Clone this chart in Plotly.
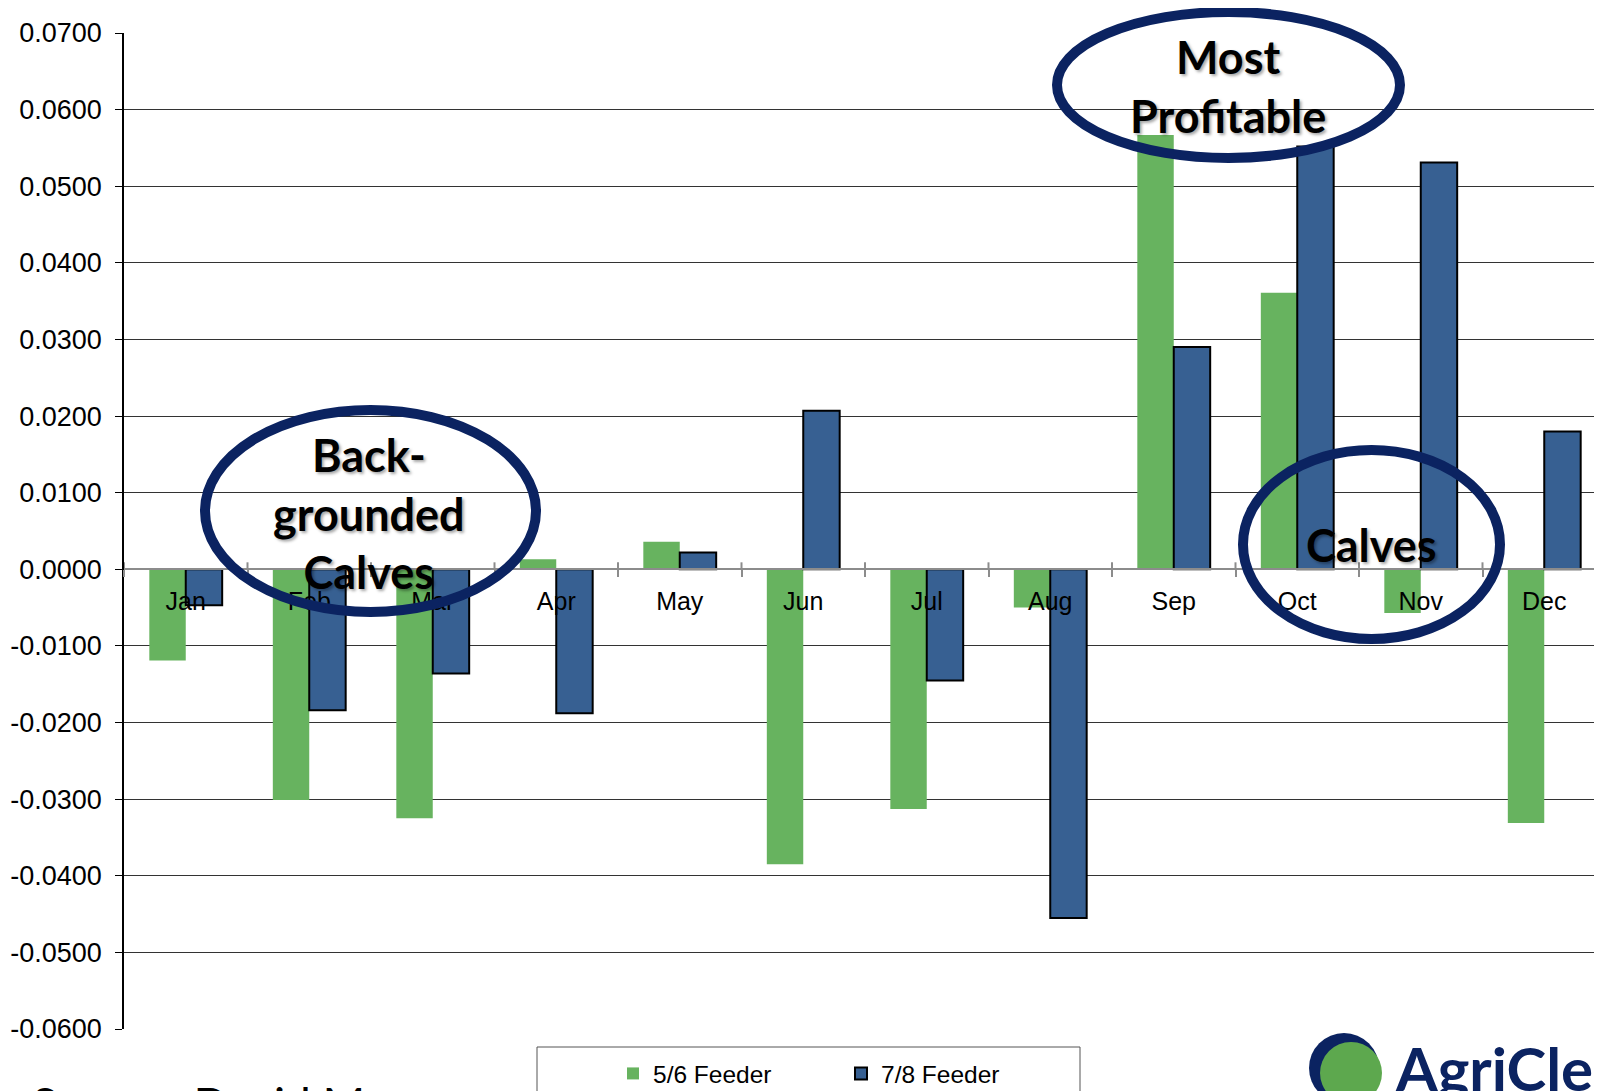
import plotly.graph_objects as go

# monthly values
months = ["Jan", "Feb", "Mar", "Apr", "May", "Jun", "Jul", "Aug", "Sep", "Oct", "Nov", "Dec"]
feeder_56 = [-0.0119, -0.0301, -0.0325, 0.0013, 0.0036, -0.0385, -0.0313, -0.0050, 0.0567, 0.0361, -0.0057, -0.0331]
feeder_78 = [-0.0047, -0.0184, -0.0136, -0.0188, 0.0022, 0.0207, -0.0145, -0.0455, 0.0290, 0.0552, 0.0531, 0.0180]
y_ticks = [-0.06, -0.05, -0.04, -0.03, -0.02, -0.01, 0.0, 0.01, 0.02, 0.03, 0.04, 0.05, 0.06, 0.07]
y_labels = [f"{v:.4f}" if v != 0 else "0.0000" for v in y_ticks]

# page body has an 8px margin, so the figure is drawn 8px in from the window corner
OFF = 8
W, H = 1602 - OFF, 1091 - OFF
ML, MR, MT, MB = 124 - OFF, 0, 33 - OFF, 62
Y_MIN, Y_MAX = -0.06, 0.07

GREEN = "#67B35F"
BLUE = "#376092"
NAVY = "#0B2361"
AXIS_FONT = "Liberation Sans, Arial, sans-serif"
NOTE_FONT = "Lato, Noto Sans, sans-serif"


# helpers: window pixel -> paper coords
def px_x(x):
    return (x - OFF - ML) / (W - ML - MR)


def px_y(y):
    return (H - MB - (y - OFF)) / (H - MT - MB)


fig = go.Figure()
fig.add_trace(go.Bar(x=months, y=feeder_56, name="5/6 Feeder",
                     marker=dict(color=GREEN, line=dict(width=0))))
fig.add_trace(go.Bar(x=months, y=feeder_78, name="7/8 Feeder",
                     marker=dict(color=BLUE, line=dict(color="black", width=2))))

zero_pos = (0 - Y_MIN) / (Y_MAX - Y_MIN)
cat_w = 123.5
x_hi = (W - ML - MR) / cat_w - 0.5

shapes = []
# upper half of the crossing tick marks on the zero axis
for i in range(len(months) + 1):
    shapes.append(dict(type="line", xref="x", yref="y", ysizemode="pixel", yanchor=0,
                       x0=i - 0.5, x1=i - 0.5, y0=0, y1=7,
                       line=dict(color="#8c8c8c", width=2), layer="above"))


def ellipse(x0, x1, y0, y1):
    return dict(type="circle", xref="paper", yref="paper",
                x0=px_x(x0), x1=px_x(x1), y0=px_y(y1), y1=px_y(y0),
                line=dict(color=NAVY, width=10), layer="above")


shapes.append(ellipse(1057, 1400, 12, 158))
shapes.append(ellipse(205, 536, 410, 612))
shapes.append(ellipse(1243, 1500, 450, 639))

# legend frame
shapes.append(dict(type="rect", xref="paper", yref="paper",
                   x0=px_x(537), x1=px_x(1080), y0=px_y(1100), y1=px_y(1047),
                   line=dict(color="#555555", width=1), fillcolor="white", layer="above"))

# logo marks
shapes.append(dict(type="circle", xref="paper", yref="paper",
                   x0=px_x(1309), x1=px_x(1379), y0=px_y(1103), y1=px_y(1033),
                   line=dict(width=0), fillcolor=NAVY, layer="above"))
shapes.append(dict(type="circle", xref="paper", yref="paper",
                   x0=px_x(1320), x1=px_x(1382), y0=px_y(1104), y1=px_y(1042),
                   line=dict(width=0), fillcolor="#5DA84E", layer="above"))

shadow = "2px 2px 3px rgba(0,0,0,0.35)"
note_font = dict(family=NOTE_FONT, size=45, color="black", weight="bold", shadow=shadow)
annotations = [
    dict(text="Most<br>Profitable", x=px_x(1228), y=px_y(86), xref="paper", yref="paper",
         showarrow=False, xanchor="center", yanchor="middle", font=note_font),
    dict(text="Back-<br>grounded<br>Calves", x=px_x(369), y=px_y(513), xref="paper", yref="paper",
         showarrow=False, xanchor="center", yanchor="middle", font=note_font),
    dict(text="Calves", x=px_x(1371), y=px_y(545), xref="paper", yref="paper",
         showarrow=False, xanchor="center", yanchor="middle", font=note_font),
    dict(text="Source: David M", x=px_x(30), y=px_y(1074), xref="paper", yref="paper",
         showarrow=False, xanchor="left", yanchor="top",
         font=dict(family=NOTE_FONT, size=46, color="black")),
    dict(text="AgriClear", x=px_x(1393), y=px_y(1030), xref="paper", yref="paper",
         showarrow=False, xanchor="left", yanchor="top",
         font=dict(family=NOTE_FONT, size=60, color=NAVY, weight="bold")),
]

fig.update_layout(
    width=W, height=H,
    margin=dict(l=ML, r=MR, t=MT, b=MB, autoexpand=False),
    paper_bgcolor="white", plot_bgcolor="white",
    barmode="group", bargap=0.41, bargroupgap=0,
    font=dict(family=AXIS_FONT, color="black"),
    shapes=shapes,
    annotations=annotations,
    showlegend=True,
    legend=dict(orientation="h", x=px_x(613), y=px_y(1051), xanchor="left", yanchor="top",
                font=dict(family=AXIS_FONT, size=24.5, color="black"),
                bgcolor="rgba(0,0,0,0)", borderwidth=0,
                entrywidth=183, entrywidthmode="pixels"),
    xaxis=dict(
        type="category", range=[-0.5, x_hi],
        anchor="free", position=zero_pos,
        showline=True, linecolor="#8c8c8c", linewidth=2,
        ticks="outside", tickson="boundaries", ticklen=7, tickwidth=2, tickcolor="#8c8c8c",
        showgrid=False, zeroline=False,
        tickfont=dict(family=AXIS_FONT, size=25, color="black"),
        ticklabelstandoff=10,
    ),
    yaxis=dict(
        range=[Y_MIN, Y_MAX], tickvals=y_ticks, ticktext=y_labels,
        showline=True, linecolor="black", linewidth=1.5,
        ticks="outside", ticklen=7, tickcolor="black",
        showgrid=True, gridcolor="#333333", gridwidth=1.2,
        zeroline=False,
        tickfont=dict(family=AXIS_FONT, size=27, color="black"),
        ticklabelstandoff=8,
    ),
)

fig.write_html("out.html")
